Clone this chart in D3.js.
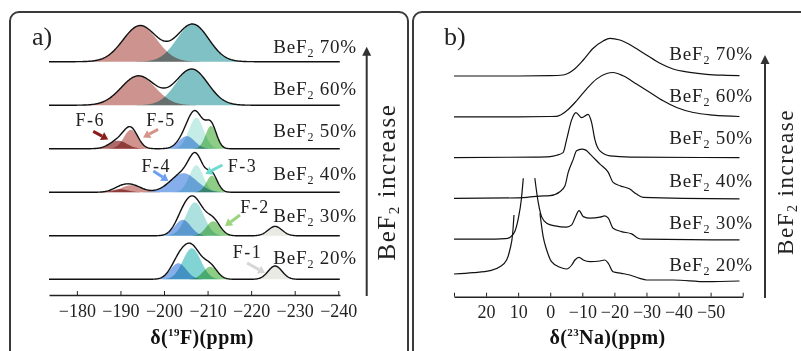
<!DOCTYPE html>
<html>
<head>
<meta charset="utf-8">
<script src="https://cdn.jsdelivr.net/npm/d3@7"></script>
<style>
  body { margin: 0; background: #fff; }
  svg { display: block; font-family: "Liberation Serif", "Times New Roman", serif; }
</style>
</head>
<body>
<div id="chart"></div>
<script>
// ---------------- data ----------------
const rows = ["70%", "60%", "50%", "40%", "30%", "20%"];
const fTicks = [-180, -190, -200, -210, -220, -230, -240];
const naTicks = [30, 20, 10, 0, -10, -20, -30, -40, -50, -60];

// 19F fitted components: [component, centre (ppm), height (a.u.), sigma (ppm)]
const fPeaks70 = [["A", -194.5, 36, 3.9], ["B", -206.6, 37.4, 3.67]];
const fPeaks60 = [["A", -194.1, 29.3, 3.9], ["B", -206.4, 36, 3.67]];
const fPeaks50 = [["F-6", -189.5, 8, 2.0], ["F-5", -192.4, 19, 1.6], ["F-4", -205.2, 12.6, 1.83],
                  ["F-3", -207.4, 31, 1.7], ["F-2", -210.8, 23, 1.26]];
const fPeaks40 = [["F-6", -189.9, 3, 1.83], ["F-5", -192.5, 7, 2.3], ["F-4", -204.5, 19, 3.0],
                  ["F-3", -207.4, 27, 1.6], ["F-2", -211.0, 16.6, 1.26]];
const fPeaks30 = [["F-4", -204.3, 16, 1.83], ["F-3", -207.1, 33.4, 2.06], ["F-2", -211.3, 14.5, 1.6],
                  ["F-1", -225.5, 9.4, 1.6]];
const fPeaks20 = [["F-4", -203.3, 16, 1.83], ["F-3", -206.4, 31, 2.06], ["F-2", -210.6, 12.6, 1.6],
                  ["F-1", -225.5, 13.3, 1.6]];

// 23Na spectra: [ppm, intensity (a.u.)], null = peak cut off above the frame
const na70 = [[30, 0], [10, 0], [0, 0.3], [-4, 1], [-7.2, 6], [-10.3, 16], [-13.4, 27.7], [-16.5, 35],
              [-18.6, 37.7], [-21.7, 36], [-25.9, 29.3], [-30, 21], [-34.2, 12.7], [-38.3, 7],
              [-43.5, 3.7], [-48.7, 1.7], [-55, 0.7], [-59, 0.3]];
const na60 = [[30, 0], [10, 0], [0, 0.3], [-2, 0.5], [-5.1, 6], [-8.2, 16], [-11.3, 27.7], [-14.4, 37.7],
              [-17.6, 43.3], [-19.6, 44.3], [-22.7, 41], [-26.9, 32.7], [-31.1, 24.3], [-35.2, 16],
              [-39.4, 9.3], [-44.6, 4.3], [-50.8, 1.7], [-59, 0.3]];
const na50 = [[30, 0], [5, 0.5], [0, 1], [-2, 2.3], [-4, 5], [-5.1, 18], [-6.7, 38], [-8, 45],
              [-9.8, 40], [-11.8, 43.3], [-12.9, 35], [-13.9, 18.3], [-15.5, 6.7], [-18.6, 1.7],
              [-25, 0.5], [-59, 0]];
const na40 = [[30, 0], [10, 0.5], [3.2, 2.3], [0.1, 2.7], [-3, 6.7], [-4.6, 12.7], [-5.6, 26],
              [-7.2, 39.3], [-8.2, 47.6], [-9.8, 49.3], [-11.1, 48.3], [-12.4, 44.3], [-15.5, 34.3],
              [-18.1, 26], [-19.6, 16], [-21.7, 12.7], [-24.8, 9.3], [-26.9, 4.3], [-29, 1], [-59, -0.5]];
const na30 = [[30, 0], [20, 0], [14, 0.5], [12.5, 2], [11, 8], [10, 20], [9, 40], [8.4, 61], null,
              [4.8, 61], [3.7, 36], [2.7, 22.6], [1.1, 16], [-1.5, 13.3], [-5.1, 12], [-6.7, 14.3],
              [-7.7, 21], [-9.0, 28.6], [-10.3, 22.6], [-12.4, 21], [-15.5, 22], [-17.0, 23.3],
              [-18.1, 21], [-19.6, 11], [-22.2, 7.6], [-25.4, 5.3], [-27.4, 1], [-29, 0], [-59, -0.7]];
const na20 = [[30, 6], [24, 7.3], [18.8, 9.3], [15.7, 13.3], [13.6, 20], [12.6, 30], [11.7, 46.7],
              [11.3, 65], null, [3.2, 66.7], [2.2, 43.3], [1.1, 30], [-0.4, 18.3], [-3.0, 12.7],
              [-5.1, 11], [-6.7, 15], [-7.7, 20], [-9.0, 22.7], [-10.3, 20], [-12.4, 18.3], [-15.5, 19],
              [-17.0, 20], [-18.1, 16.7], [-19.6, 8.3], [-22.2, 6.7], [-24.8, 5], [-27.9, 1.7],
              [-30, 0], [-38.3, 0], [-48.7, -1.7], [-59, -1]];

const fPeaks = { "70%": fPeaks70, "60%": fPeaks60, "50%": fPeaks50, "40%": fPeaks40, "30%": fPeaks30, "20%": fPeaks20 };
const naSpectra = { "70%": na70, "60%": na60, "50%": na50, "40%": na40, "30%": na30, "20%": na20 };

// ---------------- styles ----------------
const compColor = {
  "A": "rgb(196,128,122)", "B": "rgb(104,182,186)",
  "F-6": "rgb(160,80,78)", "F-5": "rgb(200,128,122)", "F-4": "rgb(112,160,232)",
  "F-2": "rgb(122,196,112)", "F-1": "rgb(228,230,222)"
};
const f3Color = { "50%": "rgb(186,234,228)", "40%": "rgb(186,234,228)", "30%": "rgb(158,220,218)", "20%": "rgb(108,204,204)" };

const W = 801, H = 351;
const svg = d3.select("#chart").append("svg").attr("width", W).attr("height", H);

// panel frames
svg.append("rect").attr("x", 10).attr("y", 12).attr("width", 398).attr("height", 370).attr("rx", 9)
  .attr("fill", "none").attr("stroke", "#3a3a3a").attr("stroke-width", 2);
svg.append("rect").attr("x", 413).attr("y", 12).attr("width", 400).attr("height", 370).attr("rx", 9)
  .attr("fill", "none").attr("stroke", "#3a3a3a").attr("stroke-width", 2);

// ---------------- panel a ----------------
const xA = d3.scaleLinear().domain([-173.6, -240.4]).range([49, 340]);
const rowA = d3.scalePoint().domain(rows).range([61.7, 279.3]);
const labA = d3.scalePoint().domain(rows).range([53, 264]);
const hA = d3.scaleLinear().domain([0, 40]).range([0, 40]);
const grid = d3.range(-173.6, -240.45, -0.15);
const gauss = (p, x) => p[2] * Math.exp(-0.5 * ((x - p[1]) / p[3]) ** 2);

const gA = svg.append("g");
rows.forEach(r => {
  const base = rowA(r);
  const peaks = fPeaks[r];
  const g = gA.append("g");
  peaks.forEach(p => {
    const pts = grid.filter(x => Math.abs(x - p[1]) < 4.5 * p[3]);
    g.append("path")
      .attr("d", d3.area().x(x => xA(x)).y0(base).y1(x => base - hA(gauss(p, x)))(pts))
      .attr("fill", p[0] === "F-3" ? f3Color[r] : compColor[p[0]])
      .attr("fill-opacity", 0.85)
      .style("mix-blend-mode", "multiply");
  });
  g.append("path")
    .attr("d", d3.line().x(x => xA(x)).y(x => base - hA(d3.sum(peaks, p => gauss(p, x))))(grid))
    .attr("fill", "none").attr("stroke", "#111").attr("stroke-width", 1.4);
});

// component annotations
const fNotes = [
  { name: "F-6", row: "50%", ppm: -187.2, h: 9.3, tail: [-15, -8], text: [-18, -13], color: "#8b1c1c" },
  { name: "F-5", row: "50%", ppm: -195.2, h: 11.3, tail: [15, -8], text: [18, -11], color: "#d4948a" },
  { name: "F-4", row: "40%", ppm: -201.0, h: 11.3, tail: [-15, -10], text: [-12, -9], color: "#6fa0f0" },
  { name: "F-3", row: "40%", ppm: -209.5, h: 18.3, tail: [17, -9], text: [37, -2], color: "#6fdccf" },
  { name: "F-2", row: "30%", ppm: -214.0, h: 9.7, tail: [15, -11], text: [30, -13], color: "#9bd67f" },
  { name: "F-1", row: "20%", ppm: -223.2, h: 6.3, tail: [-18, -10], text: [-17.5, -15], color: "#d6d6d6" }
];
fNotes.forEach(n => {
  const tx = xA(n.ppm), ty = rowA(n.row) - hA(n.h);
  const sx = tx + n.tail[0], sy = ty + n.tail[1];
  const dx = tx - sx, dy = ty - sy, len = Math.hypot(dx, dy);
  const ux = dx / len, uy = dy / len, hl = 7, hw = 4.5;
  const bx = tx - ux * hl, by = ty - uy * hl;
  gA.append("line").attr("x1", sx).attr("y1", sy).attr("x2", bx).attr("y2", by)
    .attr("stroke", n.color).attr("stroke-width", 3);
  gA.append("path")
    .attr("d", `M${tx},${ty}L${bx - uy * hw},${by + ux * hw}L${bx + uy * hw},${by - ux * hw}Z`)
    .attr("fill", n.color);
  gA.append("text").attr("x", tx + n.text[0]).attr("y", ty + n.text[1])
    .attr("text-anchor", "middle").attr("font-size", 18).attr("letter-spacing", 1.5)
    .attr("fill", "#222").text(n.name);
});

// axis a
const axA = svg.append("g").attr("transform", "translate(0,295)")
  .call(d3.axisBottom(xA).tickValues(fTicks).tickSizeInner(-4).tickSizeOuter(0).tickPadding(9));
axA.attr("font-size", 18).attr("font-family", null).attr("color", "#222");
axA.select(".domain").attr("stroke-width", 1.6);

// ---------------- panel b ----------------
const xB = d3.scaleLinear().domain([30, -60]).range([454, 742.7]);
const rowB = d3.scalePoint().domain(rows).range([76, 280]);
const labB = d3.scalePoint().domain(rows).range([60, 271]);
const hB = d3.scaleLinear().domain([0, 40]).range([0, 40]);

const gB = svg.append("g");
rows.forEach(r => {
  const base = rowB(r);
  gB.append("path")
    .attr("d", d3.line().defined(d => d !== null)
      .x(d => xB(d[0])).y(d => base - hB(d[1]))
      .curve(d3.curveMonotoneX)(naSpectra[r]))
    .attr("fill", "none").attr("stroke", "#111").attr("stroke-width", 1.2);
});

const axB = svg.append("g").attr("transform", "translate(0,296.7)")
  .call(d3.axisBottom(xB).tickValues(naTicks).tickSizeInner(-4).tickSizeOuter(0).tickPadding(9)
    .tickFormat(d => (d === 30 || d === -60) ? "" : d3.format("d")(d)));
axB.attr("font-size", 18).attr("font-family", null).attr("color", "#222");
axB.select(".domain").attr("stroke-width", 1.6);

// ---------------- shared labels ----------------
function bef(g, x, y, pct, size, sub) {
  const t = g.append("text").attr("x", x).attr("y", y).attr("text-anchor", "end")
    .attr("font-size", size).attr("letter-spacing", 0.8).attr("fill", "#222");
  t.append("tspan").text("BeF");
  t.append("tspan").attr("font-size", sub).attr("dy", 4).text("2");
  t.append("tspan").attr("dy", -4).text(" " + pct);
  return t;
}
rows.forEach(r => {
  bef(svg, 357, labA(r), r, 19, 12);
  bef(svg, 753, labB(r), r, 19, 12);
});

function increase(x, y, size) {
  const t = svg.append("text").attr("transform", `translate(${x},${y}) rotate(-90)`)
    .attr("text-anchor", "middle").attr("font-size", size).attr("letter-spacing", 1.5).attr("fill", "#222");
  t.append("tspan").text("BeF");
  t.append("tspan").attr("font-size", size * 0.6).attr("dy", 4).text("2");
  t.append("tspan").attr("dy", -4).text("  increase");
}
increase(395, 182, 25);
increase(793, 182, 23);

function upArrow(x, y0, y1) {
  svg.append("line").attr("x1", x).attr("x2", x).attr("y1", y0).attr("y2", y1 + 6)
    .attr("stroke", "#333").attr("stroke-width", 2);
  svg.append("path").attr("d", `M${x},${y1}L${x - 4.5},${y1 + 9}L${x + 4.5},${y1 + 9}Z`).attr("fill", "#333");
}
upArrow(366.7, 296, 46.7);
upArrow(765, 298, 55);

function axisTitle(x, y, sup, rest) {
  const t = svg.append("text").attr("x", x).attr("y", y).attr("text-anchor", "middle")
    .attr("font-size", 20).attr("font-weight", "bold").attr("letter-spacing", 0.4).attr("fill", "#111");
  t.append("tspan").text("δ(");
  t.append("tspan").attr("font-size", 11).attr("dy", -8).text(sup);
  t.append("tspan").attr("dy", 8).text(rest);
}
axisTitle(202, 344, "19", "F)(ppm)");
axisTitle(607.5, 344, "23", "Na)(ppm)");

svg.append("text").attr("x", 32).attr("y", 45).attr("font-size", 26).attr("fill", "#222").text("a)");
svg.append("text").attr("x", 444).attr("y", 45).attr("font-size", 26).attr("fill", "#222").text("b)");
</script>
</body>
</html>
